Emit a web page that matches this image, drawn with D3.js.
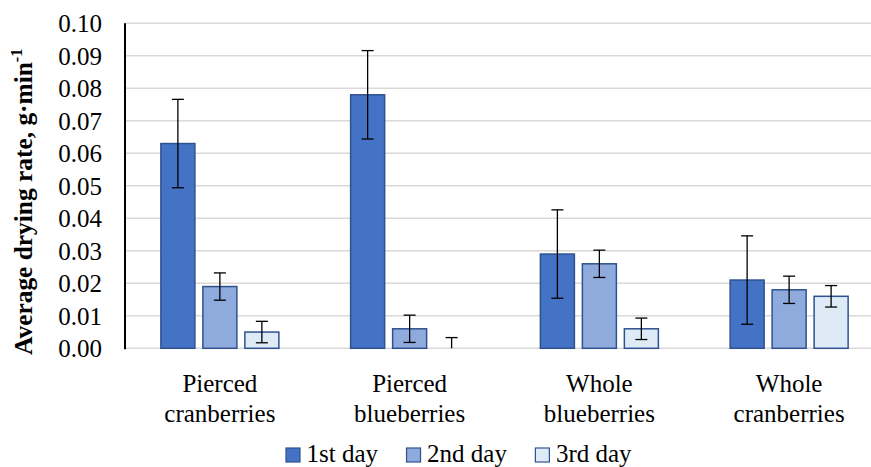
<!DOCTYPE html>
<html>
<head>
<meta charset="utf-8">
<script src="https://cdn.jsdelivr.net/npm/d3@7/dist/d3.min.js"></script>
</head>
<body style="margin:0">
<svg id="chart" width="871" height="467"></svg>
<script>
// Drying rate by product and day
const categories = [["Pierced", "cranberries"], ["Pierced", "blueberries"], ["Whole", "blueberries"], ["Whole", "cranberries"]];
const seriesNames = ["1st day", "2nd day", "3rd day"];
const day1 = [0.063, 0.078, 0.029, 0.021];
const day2 = [0.019, 0.006, 0.026, 0.018];
const day3 = [0.005, 0.000, 0.006, 0.016];
const errors = [0.0136, 0.0042, 0.0033];   // standard error per day
const yTicks = [0, 0.01, 0.02, 0.03, 0.04, 0.05, 0.06, 0.07, 0.08, 0.09, 0.10];

const seriesValues = [day1, day2, day3];
const fills = ["#4472C4", "#8FAADC", "#DEEBF7"];
const edge = "#2F528F";
const FONT = "Liberation Serif";

const svg = d3.select("#chart");
const plot = { left: 125, right: 884, top: 23.3, bottom: 348.3 };

const catKeys = categories.map(c => c.join(" "));
const x0 = d3.scaleBand().domain(catKeys).range([plot.left, plot.right]).padding(0);
const groupSpan = 118;
const x1 = d3.scaleBand().domain(seriesNames)
  .range([(x0.bandwidth() - groupSpan) / 2, (x0.bandwidth() + groupSpan) / 2])
  .paddingInner(0.19).paddingOuter(0);
const y = d3.scaleLinear().domain([0, 0.10]).range([plot.bottom, plot.top]);

function label(sel, size, weight) {
  return sel.style("font-family", FONT).style("font-size", size + "px")
    .style("font-weight", weight || "normal").attr("fill", "#000");
}

// Gridlines
svg.append("g")
  .selectAll("line")
  .data(yTicks)
  .join("line")
  .attr("x1", plot.left).attr("x2", plot.right)
  .attr("y1", d => y(d)).attr("y2", d => y(d))
  .attr("stroke", "#D9D9D9").attr("stroke-width", 1.4);

// Y axis tick labels, positioned by the scale
svg.append("g")
  .selectAll("text")
  .data(yTicks)
  .join("text")
  .attr("x", plot.left - 23).attr("y", d => y(d)).attr("dy", "0.35em")
  .attr("text-anchor", "end")
  .text(d3.format(".2f"))
  .call(label, 25);

svg.append("line")
  .attr("x1", plot.left).attr("x2", plot.left)
  .attr("y1", plot.top).attr("y2", plot.bottom + 1)
  .attr("stroke", "#000").attr("stroke-width", 2);

// Bars
const groups = svg.append("g")
  .selectAll("g")
  .data(catKeys)
  .join("g")
  .attr("transform", d => `translate(${x0(d)},0)`);

groups.each(function(cat, ci) {
  const g = d3.select(this);
  seriesNames.forEach((s, si) => {
    const v = seriesValues[si][ci];
    if (v > 0) {
      g.append("rect")
        .attr("x", x1(s)).attr("width", x1.bandwidth())
        .attr("y", y(v)).attr("height", y(0) - y(v))
        .attr("fill", fills[si]).attr("stroke", edge).attr("stroke-width", 1.5);
    }
  });
});

// Error bars
groups.each(function(cat, ci) {
  const g = d3.select(this);
  seriesNames.forEach((s, si) => {
    const v = seriesValues[si][ci];
    const e = errors[si];
    const cx = x1(s) + x1.bandwidth() / 2;
    const lo = Math.max(0, v - e), hi = v + e;
    const eb = g.append("g").attr("stroke", "#000").attr("stroke-width", 1.3);
    eb.append("line").attr("x1", cx).attr("x2", cx).attr("y1", y(hi)).attr("y2", y(lo));
    eb.append("line").attr("x1", cx - 6).attr("x2", cx + 6).attr("y1", y(hi)).attr("y2", y(hi));
    if (v - e > 0) {
      eb.append("line").attr("x1", cx - 6).attr("x2", cx + 6).attr("y1", y(lo)).attr("y2", y(lo));
    }
  });
});

// Category labels, two lines each
categories.forEach((c, i) => {
  const cx = x0(catKeys[i]) + x0.bandwidth() / 2;
  c.forEach((line, li) => {
    svg.append("text")
      .attr("x", cx).attr("y", 391.5 + li * 30)
      .attr("text-anchor", "middle")
      .text(line)
      .call(label, 25);
  });
});

// Y axis title: main run sized to span 293px from the axis foot upward
const title = svg.append("text")
  .attr("transform", "translate(32,355) rotate(-90)")
  .attr("text-anchor", "start")
  .call(label, 25, "bold");
const mainRun = title.append("tspan").text("Average drying rate, g·min");
const runLen = mainRun.node().getComputedTextLength();
const titleSize = 25 * 293 / runLen;
title.style("font-size", titleSize + "px");
title.append("tspan").style("font-size", (titleSize * 0.64) + "px").attr("dy", -titleSize * 0.4).text("-1");

// Legend
const legend = svg.append("g");
let lx = 286;
seriesNames.forEach((s, si) => {
  legend.append("rect")
    .attr("x", lx).attr("y", 448).attr("width", 14).attr("height", 14)
    .attr("fill", fills[si]).attr("stroke", edge).attr("stroke-width", 1.2);
  const t = legend.append("text")
    .attr("x", lx + 20.5).attr("y", 462)
    .text(s)
    .call(label, 25);
  lx += 20.5 + t.node().getComputedTextLength() + 28.5;
});
</script>
</body>
</html>
